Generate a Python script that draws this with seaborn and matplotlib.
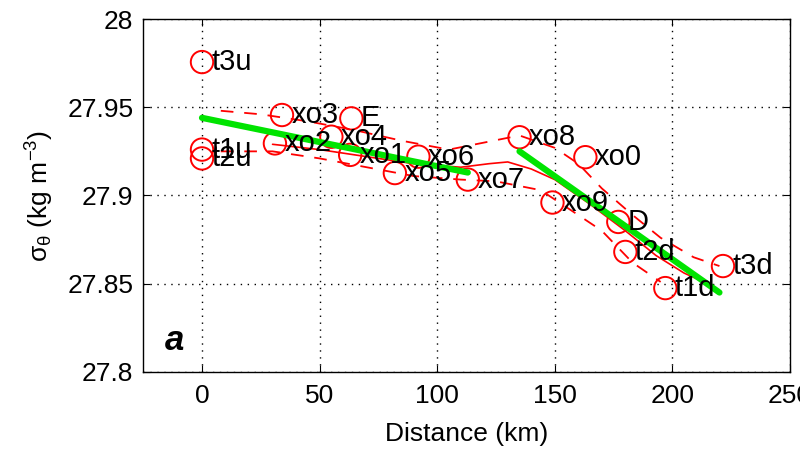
import numpy as np
import pandas as pd
import matplotlib
matplotlib.use('Agg')
import matplotlib.pyplot as plt
import seaborn as sns

# station positions (km) and potential density
stations = ['t3u', 't1u', 't2u', 'xo3', 'xo2', 'E', 'xo4', 'xo1', 'xo5', 'xo6',
            'xo7', 'xo8', 'xo0', 'xo9', 'D', 't2d', 't1d', 't3d']
dist = [0, 0, 0, 34, 31, 63.5, 55, 63, 82, 92,
        113, 135, 163, 149, 177, 180, 197, 221.5]
sigma = [27.9756, 27.926, 27.921, 27.9456, 27.9295, 27.9437, 27.9333, 27.923, 27.9127, 27.922,
         27.909, 27.933, 27.9217, 27.896, 27.885, 27.868, 27.8475, 27.860]

# smoothed profile and envelope
mid_x = [30, 50, 70, 90, 110, 122, 130, 140, 150, 165, 180, 193, 205, 215]
mid_y = [27.929, 27.926, 27.922, 27.918, 27.916, 27.918, 27.919, 27.915, 27.909, 27.895, 27.880, 27.866, 27.856, 27.850]
up_x = [8, 25, 45, 65, 85, 105, 120, 135, 150, 160, 170, 183, 195, 209, 220]
up_y = [27.948, 27.946, 27.942, 27.937, 27.931, 27.926, 27.930, 27.934, 27.927, 27.918, 27.904, 27.889, 27.876, 27.865, 27.860]
lo_x = [8, 30, 50, 70, 90, 110, 125, 144, 161, 170, 183, 195]
lo_y = [27.925, 27.925, 27.921, 27.916, 27.911, 27.909, 27.908, 27.903, 27.888, 27.880, 27.862, 27.851]

# fitted linear segments
fit1_x = [0, 113]
fit1_y = [27.944, 27.913]
fit2_x = [135, 220]
fit2_y = [27.925, 27.845]

sns.set_style('ticks', rc={'text.color': 'black', 'axes.labelcolor': 'black',
                           'xtick.color': 'black', 'ytick.color': 'black'})
plt.rcParams['font.family'] = ['Liberation Sans', 'DejaVu Sans']
plt.rcParams['mathtext.fontset'] = 'custom'
plt.rcParams['mathtext.rm'] = 'Liberation Sans'

fig = plt.figure(figsize=(8, 4.53), dpi=100)
ax = fig.add_axes([0.179, 0.179, 0.8085, 0.779])

df = pd.DataFrame({'dist': dist, 'sigma': sigma, 'station': stations})

sns.lineplot(x=up_x, y=up_y, ax=ax, color='red', lw=1.3, sort=False,
             linestyle=(0, (7, 6)))
sns.lineplot(x=lo_x, y=lo_y, ax=ax, color='red', lw=1.3, sort=False,
             linestyle=(0, (7, 6)))
sns.lineplot(x=mid_x, y=mid_y, ax=ax, color='red', lw=1.2, sort=False)

sns.scatterplot(data=df, x='dist', y='sigma', ax=ax, marker='o', s=260,
                facecolor='none', edgecolor='red', linewidth=1.4, zorder=3)

sns.lineplot(x=fit1_x, y=fit1_y, ax=ax, color='#00e400', lw=4.5, zorder=4)
sns.lineplot(x=fit2_x, y=fit2_y, ax=ax, color='#00e400', lw=4.5, zorder=4)

for name, x, y in zip(stations, dist, sigma):
    ax.text(x + 4.0, y, name, fontsize=21, va='center', ha='left', zorder=5)

ax.text(-11.5, 27.818, 'a', fontsize=25, fontweight='bold', style='italic',
        ha='center', va='center')

ax.set_xlim(-25, 250)
ax.set_ylim(27.8, 28)
ax.set_xticks([0, 50, 100, 150, 200, 250])
ax.set_yticks([27.8, 27.85, 27.9, 27.95, 28])
ax.set_yticklabels(['27.8', '27.85', '27.9', '27.95', '28'])
ax.grid(True, color='black', linestyle=(0, (1, 4)), linewidth=1)
ax.tick_params(direction='in', labelsize=19, length=5, top=True, right=True)
ax.tick_params(axis='y', pad=7)
ax.tick_params(axis='x', pad=9)
for s in ax.spines.values():
    s.set_visible(True)
    s.set_linewidth(1)
    s.set_color('black')

ax.set_xlabel('Distance (km)', fontsize=19, labelpad=10)
ax.set_ylabel(r'$\mathrm{\sigma_\theta}$ (kg m$^{\mathrm{-3}}$)', fontsize=19, labelpad=9)

fig.savefig('out.png', dpi=100, facecolor='white')
